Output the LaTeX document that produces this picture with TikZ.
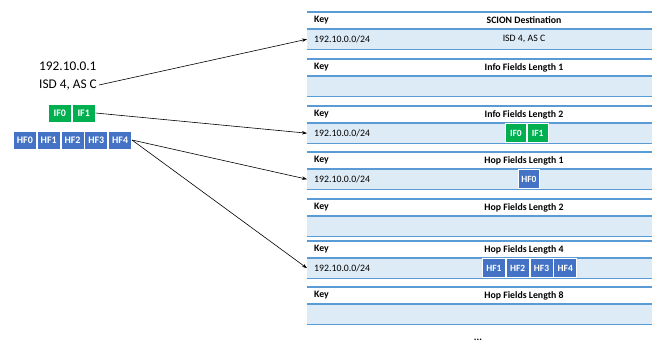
\documentclass[tikz,border=0pt]{standalone}
\usepackage{fontspec}
\setmainfont{Carlito}
\usetikzlibrary{positioning,arrows.meta}
\definecolor{tblline}{HTML}{5B9BD5}
\definecolor{tblfill}{HTML}{DDEBF7}
\definecolor{ifgreen}{HTML}{00B050}
\definecolor{hfblue}{HTML}{4472C4}
\tikzset{
  field/.style={draw=white, line width=0.8pt, text=white, font=\fontsize{9.5}{10}\selectfont\bfseries, inner sep=0pt, minimum height=19pt},
  infofield/.style={field, fill=ifgreen},
  hopfield/.style={field, fill=hfblue},
  datarow/.style={fill=tblfill, minimum width=345pt, minimum height=20pt, inner sep=0pt, anchor=north west},
  rowline/.style={draw=tblline, line width=1.2pt},
  tabtext/.style={font=\fontsize{9.8}{11}\selectfont, inner sep=0pt},
  tabhead/.style={font=\fontsize{9.8}{11}\selectfont\bfseries, inner sep=0pt},
  pointer/.style={-{Stealth[length=5pt,width=3.5pt]}, line width=0.6pt}
}
\begin{document}
\begin{tikzpicture}[x=1pt, y=-1pt]
\useasboundingbox (0,0) rectangle (657,343);
% tables
\foreach \t/\title [count=\i] in {12/SCION Destination, 59/Info Fields Length 1, 106/Info Fields Length 2, 152/Hop Fields Length 1, 199/Hop Fields Length 2, 241/Hop Fields Length 4, 287/Hop Fields Length 8}{
  \node[datarow] (row\i) at (307,\t+17) {};
  \draw[rowline] (307,\t) -- (652,\t);
  \draw[rowline] (row\i.north west) -- (row\i.north east);
  \draw[rowline] (row\i.south west) -- (row\i.south east);
  \node[tabhead, anchor=west] (key\i) at (314,\t+8.5) {Key};
  \node[tabhead] (head\i) at (524,\t+8.5) {\title};
}
\node[tabtext, anchor=west] (prefix1) at ([xshift=7pt]row1.west) {192.10.0.0/24};
\node[tabtext] (dest1) at (524,39) {ISD 4, AS C};
\node[tabtext, anchor=west] (prefix3) at ([xshift=7pt]row3.west) {192.10.0.0/24};
\node[tabtext, anchor=west] (prefix4) at ([xshift=7pt]row4.west) {192.10.0.0/24};
\node[tabtext, anchor=west] (prefix6) at ([xshift=7pt]row6.west) {192.10.0.0/24};
% fields stored in the tables
\node[infofield, minimum width=21pt, anchor=west] (tif0) at (505,133) {IF0};
\node[infofield, minimum width=21pt, right=0pt of tif0] (tif1) {IF1};
\node[hopfield, minimum width=21pt, anchor=west] (thf0) at (518,179) {HF0};
\node[hopfield, minimum width=23pt, anchor=west] (thf1) at (482,268) {HF1};
\node[hopfield, minimum width=23pt, right=0pt of thf1] (thf2) {HF2};
\node[hopfield, minimum width=23pt, right=0pt of thf2] (thf3) {HF3};
\node[hopfield, minimum width=23pt, right=0pt of thf3] (thf4) {HF4};
% packet on the left
\node[font=\fontsize{13.3}{15}\selectfont, anchor=west, inner sep=0pt] (addr) at (39,66) {192.10.0.1};
\node[font=\fontsize{13.3}{15}\selectfont, anchor=west, inner sep=0pt] (isdas) at (39,85) {ISD 4, AS C};
\node[infofield, minimum width=23pt, minimum height=18pt, font=\fontsize{10}{11}\selectfont\bfseries, anchor=west] (if0) at (48,113) {IF0};
\node[infofield, minimum width=23pt, minimum height=18pt, font=\fontsize{10}{11}\selectfont\bfseries, right=0pt of if0] (if1) {IF1};
\node[hopfield, minimum width=23pt, minimum height=18pt, font=\fontsize{10}{11}\selectfont\bfseries, anchor=west] (hf0) at (13,140) {HF0};
\node[hopfield, minimum width=23pt, minimum height=18pt, font=\fontsize{10}{11}\selectfont\bfseries, right=0pt of hf0] (hf1) {HF1};
\node[hopfield, minimum width=23pt, minimum height=18pt, font=\fontsize{10}{11}\selectfont\bfseries, right=0pt of hf1] (hf2) {HF2};
\node[hopfield, minimum width=23pt, minimum height=18pt, font=\fontsize{10}{11}\selectfont\bfseries, right=0pt of hf2] (hf3) {HF3};
\node[hopfield, minimum width=23pt, minimum height=18pt, font=\fontsize{10}{11}\selectfont\bfseries, right=0pt of hf3] (hf4) {HF4};
% lookups
\draw[pointer] ([xshift=2pt]isdas.east) -- (row1.west);
\draw[pointer] (if1.east) -- (row3.west);
\draw[pointer] (hf4.east) -- (row4.west);
\draw[pointer] (hf4.east) -- (row6.west);
\node[font=\fontsize{10}{11}\selectfont\bfseries, anchor=base, inner sep=0pt] (more) at (478,340.5) {...};
\end{tikzpicture}
\end{document}
